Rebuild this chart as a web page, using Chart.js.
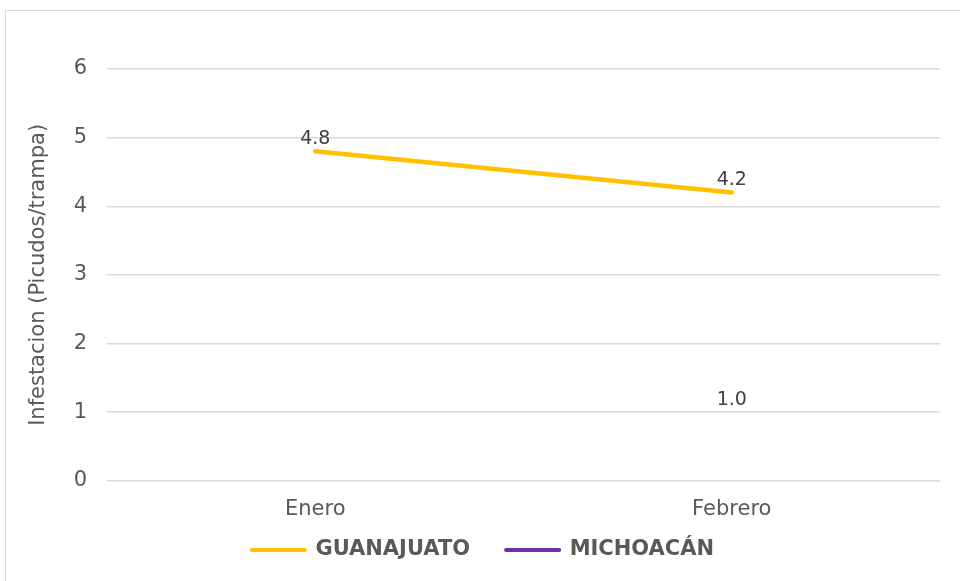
<!DOCTYPE html>
<html>
<head>
<meta charset="utf-8">
<script src="https://cdn.jsdelivr.net/npm/chart.js@4"></script>
<style>
  body { margin: 0; background: #fff; }
  #frame { position: absolute; left: 5px; top: 10px; width: 1000px; height: 600px; border: 1px solid #d9d9d9; }
  #wrap { position: absolute; left: 0; top: 0; width: 960px; height: 581px; }
</style>
</head>
<body>
<div id="frame"></div>
<div id="wrap"><canvas id="chart"></canvas></div>
<script>
// data
const meses = ["Enero", "Febrero"];
const guanajuato = [4.8, 4.2];
const michoacan = [null, 1.0];
const yTicks = [0, 1, 2, 3, 4, 5, 6];

const fuente = "'DejaVu Sans', sans-serif";

// etiquetas de valores sobre los puntos
const etiquetas = {
    id: "etiquetas",
    afterLayout(chart) {
        // subir la leyenda para que quede a la altura del original
        const lg = chart.legend;
        const h = lg.height;
        lg.top = 550 - 36 - 10.5;
        lg.bottom = lg.top + h;
    },
    afterDatasetsDraw(chart) {
        const ctx = chart.ctx;
        ctx.save();
        ctx.font = "19px " + fuente;
        ctx.fillStyle = "#404040";
        ctx.textAlign = "center";
        ctx.textBaseline = "bottom";
        chart.data.datasets.forEach((ds, i) => {
            const meta = chart.getDatasetMeta(i);
            meta.data.forEach((pt, j) => {
                const v = ds.data[j];
                if (v === null) return;
                ctx.fillText(v.toFixed(1), pt.x, pt.y - 3);
            });
        });
        ctx.restore();
    },
};

new Chart(document.getElementById("chart"), {
    type: "line",
    data: {
        labels: meses,
        datasets: [
            {
                label: "GUANAJUATO",
                data: guanajuato,
                borderColor: "#FFC000",
                backgroundColor: "#FFC000",
                borderWidth: 4.5,
                borderCapStyle: "round",
                pointRadius: 0,
                tension: 0,
            },
            {
                label: "MICHOACÁN",
                data: michoacan,
                borderColor: "#7030A0",
                backgroundColor: "#7030A0",
                showLine: false,
                pointRadius: 0,
            },
        ],
    },
    options: {
        responsive: true,
        maintainAspectRatio: false,
        animation: false,
        layout: {
            padding: { left: 26, right: 20, top: 69, bottom: -16 },
        },
        scales: {
            x: {
                offset: true,
                grid: { display: false },
                border: { display: false },
                ticks: { color: "#595959", font: { family: fuente, size: 21 }, padding: 8 },
            },
            y: {
                min: 0,
                max: 6,
                afterBuildTicks: (axis) => {
                    axis.ticks = yTicks.map((v) => ({ value: v }));
                },
                afterFit: (axis) => {
                    axis.width = 81;
                },
                grid: { color: "#d9d9d9", lineWidth: 1.5, drawTicks: false },
                border: { display: false },
                ticks: { color: "#595959", font: { family: fuente, size: 21 }, padding: 20 },
                title: {
                    display: true,
                    text: "Infestacion (Picudos/trampa)",
                    color: "#595959",
                    font: { family: fuente, size: 21 },
                    padding: 0,
                },
            },
        },
        plugins: {
            legend: {
                position: "bottom",
                labels: {
                    usePointStyle: true,
                    pointStyle: "line",
                    pointStyleWidth: 53,
                    boxHeight: 4,
                    color: "#595959",
                    font: { family: fuente, size: 21, weight: "bold" },
                    padding: 36,
                    generateLabels: (chart) =>
                        chart.data.datasets.map((ds, i) => ({
                            text: ds.label,
                            strokeStyle: ds.borderColor,
                            fillStyle: ds.borderColor,
                            lineWidth: 4,
                            lineCap: "round",
                            pointStyle: "line",
                            fontColor: "#595959",
                            datasetIndex: i,
                        })),
                },
            },
            tooltip: { enabled: false },
        },
    },
    plugins: [etiquetas],
});
</script>
</body>
</html>
